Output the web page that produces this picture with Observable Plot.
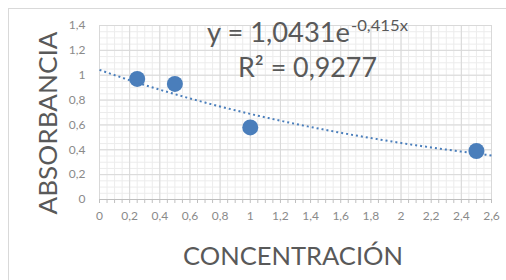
<!DOCTYPE html>
<html><head><meta charset="utf-8">
<script src="https://cdn.jsdelivr.net/npm/d3@7"></script>
<script src="https://cdn.jsdelivr.net/npm/@observablehq/plot@0.6"></script>
<style>
html,body{margin:0;padding:0;background:#fff;}
#wrap{position:relative;width:506px;height:280px;overflow:hidden;}
#box{position:absolute;left:8px;top:8px;width:520px;height:300px;border:1px solid #d9d9d9;box-sizing:border-box;}
#chart{position:absolute;left:0;top:0;}
</style>
</head><body>
<div id="wrap"><div id="box"></div><div id="chart"></div></div>
<script>
const concentracion = [0.25, 0.5, 1.0, 2.5];
const absorbancia = [0.97, 0.93, 0.58, 0.39];
const xTicks = [0,0.2,0.4,0.6,0.8,1,1.2,1.4,1.6,1.8,2,2.2,2.4,2.6];
const yTicks = [0,0.2,0.4,0.6,0.8,1,1.2,1.4];
const fitA = 1.0431, fitB = -0.415;
const eqMain = "y = 1,0431e";
const eqSup = "-0,415x";
const r2Label = "R² = 0,9277";
const xTitle = "CONCENTRACIÓN";
const yTitle = "ABSORBANCIA";

const xMinor = d3.range(0, 2.6001, 0.05);
const yMinor = d3.range(0, 1.4001, 0.05);
const points = concentracion.map((c,i)=>({x:c, y:absorbancia[i]}));
const trend = d3.range(0, 2.6001, 0.02).map(x=>({x, y: fitA*Math.exp(fitB*x)}));
const fmt = d => String(+d.toFixed(1)).replace(".", ",");
const font = "Lato, 'Open Sans', sans-serif";

const chart = Plot.plot({
  width: 506, height: 280,
  marginLeft: 99, marginRight: 15, marginTop: 25, marginBottom: 81,
  style: {fontFamily: font, background: "transparent"},
  x: {domain: [0, 2.6]},
  y: {domain: [0, 1.4]},
  marks: [
    Plot.gridX(xMinor, {stroke: "#ececec", strokeOpacity: 1}),
    Plot.gridY(yMinor, {stroke: "#ececec", strokeOpacity: 1}),
    Plot.gridX(xTicks, {stroke: "#d9d9d9", strokeOpacity: 1}),
    Plot.gridY(yTicks, {stroke: "#d9d9d9", strokeOpacity: 1}),
    Plot.ruleY([0], {stroke: "#bfbfbf"}),
    Plot.axisX({ticks: xMinor, tickSize: 4, tickFormat: () => "", stroke: "#bfbfbf", label: null}),
    Plot.axisX({ticks: xTicks, tickSize: 0, tickPadding: 12, tickFormat: fmt, fontSize: 12, fill: "#8a8a8a", label: null}),
    Plot.axisY({ticks: yTicks, tickSize: 0, tickPadding: 14, tickFormat: fmt, fontSize: 12, fill: "#8a8a8a", label: null}),
    Plot.line(trend, {x: "x", y: "y", stroke: "#4a7ebb", strokeWidth: 2, strokeDasharray: "2,3", strokeLinecap: "butt"}),
    Plot.dot(points, {x: "x", y: "y", r: 8, fill: "#4a7ebb", stroke: "none"})
  ]
});
document.getElementById("chart").appendChild(chart);

const svg = d3.select(chart);
const eq = svg.append("text").attr("x", 207).attr("y", 42).attr("text-anchor", "start")
  .attr("font-family", font).attr("font-size", 26).attr("fill", "#595959");
eq.append("tspan").text(eqMain).attr("textLength", 143).attr("lengthAdjust", "spacingAndGlyphs");
eq.append("tspan").text(eqSup).attr("x", 351).attr("y", 31).attr("font-size", 16)
  .attr("textLength", 57).attr("lengthAdjust", "spacingAndGlyphs");
svg.append("text").attr("x", 238).attr("y", 77).attr("text-anchor", "start").text(r2Label)
  .attr("font-family", font).attr("font-size", 26).attr("fill", "#595959")
  .attr("textLength", 139).attr("lengthAdjust", "spacingAndGlyphs");
svg.append("text").attr("x", 293).attr("y", 265).attr("text-anchor", "middle").text(xTitle)
  .attr("font-family", font).attr("font-size", 25).attr("fill", "#595959")
  .attr("textLength", 220).attr("lengthAdjust", "spacingAndGlyphs");
svg.append("text").attr("transform", "translate(57,123) rotate(-90)").attr("text-anchor", "middle").text(yTitle)
  .attr("font-family", font).attr("font-size", 25).attr("fill", "#595959")
  .attr("textLength", 183).attr("lengthAdjust", "spacingAndGlyphs");
</script>
</body></html>
